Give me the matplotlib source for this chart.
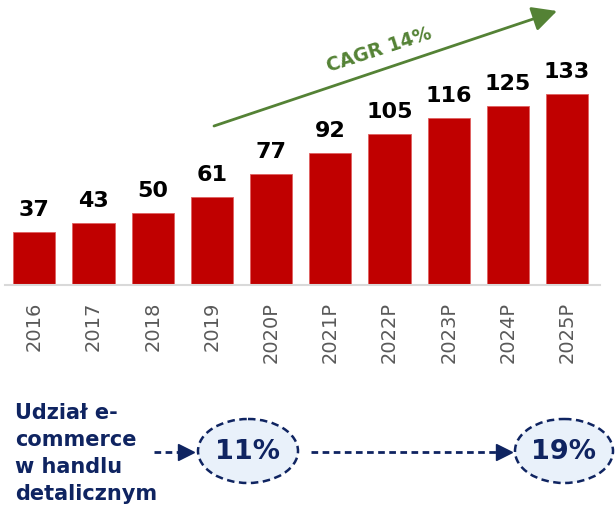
import matplotlib.pyplot as plt
from matplotlib.patches import Ellipse

years = ['2016', '2017', '2018', '2019', '2020P', '2021P', '2022P', '2023P', '2024P', '2025P']
sales = [37, 43, 50, 61, 77, 92, 105, 116, 125, 133]
cagr_label = 'CAGR 14%'
share_title = ['Udział e-', 'commerce', 'w handlu', 'detalicznym']
share_values = ['11%', '19%']

RED = '#c00000'
GREEN = '#548235'
NAVY = '#0f2461'
W, H = 615, 507


def main():
    fig = plt.figure(figsize=(W / 100, H / 100), dpi=100, facecolor='white')

    # bar chart in the upper part
    base = 285
    ax = fig.add_axes([5 / W, (H - base) / H, 595 / W, base / H])
    x = range(len(years))
    ax.bar(x, sales, width=0.71, color=RED, edgecolor='#e06060', linewidth=0.6, zorder=2)
    ax.set_xlim(-0.495, 9.556)
    ax.set_ylim(0, base / 1.436)
    for i, v in zip(x, sales):
        ax.annotate(str(v), (i, v), xytext=(0, 11.5), textcoords='offset points',
                    ha='center', va='baseline', fontsize=16, fontweight='bold', color='black')
    ax.set_xticks(list(x))
    ax.set_xticklabels(years, rotation=90, fontsize=14, color='#595959')
    ax.tick_params(axis='x', length=0, pad=12)
    ax.set_yticks([])
    for side in ['top', 'left', 'right']:
        ax.spines[side].set_visible(False)
    ax.spines['bottom'].set_color('#d9d9d9')
    ax.spines['bottom'].set_linewidth(1.5)
    ax.patch.set_alpha(0)

    # overlay in pixel coordinates for arrows and the share row
    ov = fig.add_axes([0, 0, 1, 1], zorder=5)
    ov.set_xlim(0, W)
    ov.set_ylim(H, 0)
    ov.axis('off')
    ov.patch.set_alpha(0)

    ov.annotate('', xy=(557, 11), xytext=(214, 126),
                arrowprops=dict(arrowstyle='-|>,head_length=0.75,head_width=0.38',
                                mutation_scale=20, color=GREEN, lw=2,
                                shrinkA=0, shrinkB=0))
    ov.text(379, 50, cagr_label, rotation=18, rotation_mode='anchor', ha='center', va='center',
            fontsize=13.5, fontweight='bold', color=GREEN)

    for k, line in enumerate(share_title):
        ov.text(15, 419 + 27 * k, line, ha='left', va='baseline',
                fontsize=15, fontweight='bold', color=NAVY)

    dash = (0, (2.4, 1.6))
    ov.plot([154, 182], [452, 452], color=NAVY, lw=2, ls=dash)
    ov.plot([186], [452], marker='>', markersize=11, color=NAVY)
    ov.plot([311, 500], [452, 452], color=NAVY, lw=2, ls=dash)
    ov.plot([504], [452], marker='>', markersize=11, color=NAVY)

    for cx, w, label in zip([248, 564], [100, 98], share_values):
        ov.add_patch(Ellipse((cx, 451), w, 64, facecolor='#e9f1fa', edgecolor=NAVY,
                             lw=1.8, ls=(0, (3, 1.8))))
        ov.text(cx, 452, label, ha='center', va='center',
                fontsize=19.5, fontweight='bold', color=NAVY)

    fig.savefig('out.png', dpi=100, facecolor='white')


if __name__ == '__main__':
    main()
